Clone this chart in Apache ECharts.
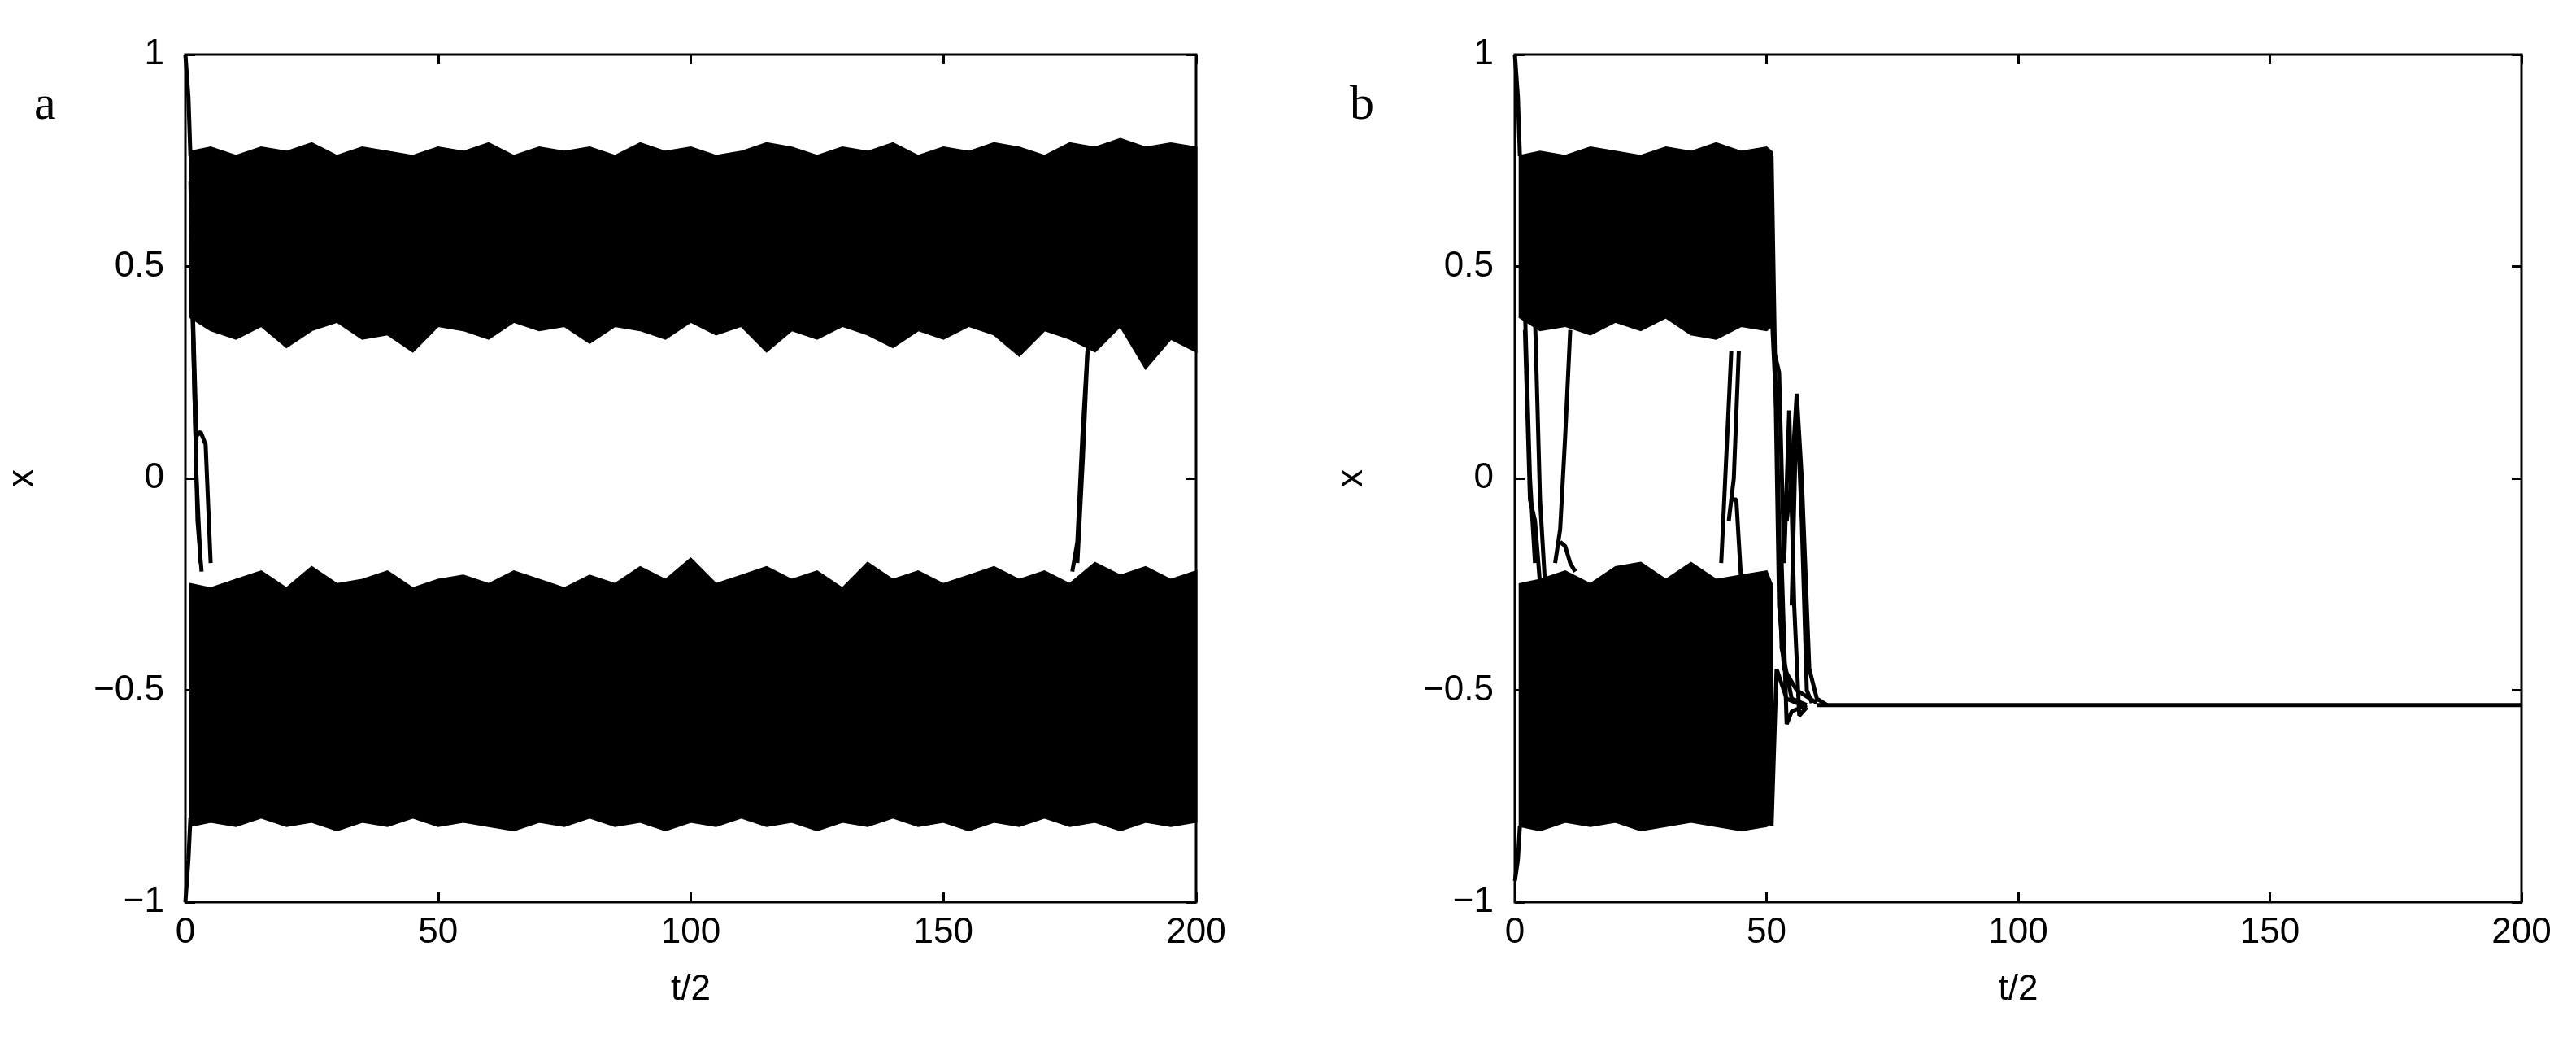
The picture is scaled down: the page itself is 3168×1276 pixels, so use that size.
<!DOCTYPE html>
<html><head><meta charset="utf-8">
<script src="https://cdn.jsdelivr.net/npm/echarts@6/dist/echarts.min.js"></script>
<style>html,body{margin:0;background:#fff}#c{width:3168px;height:1276px}</style>
</head><body><div id="c"></div>
<script>
const xTicks=[0,50,100,150,200];
const yTicks=[-1,-0.5,0,0.5,1];
const T_A=[1,5,10,15,20,25,30,35,40,45,50,55,60,65,70,75,80,85,90,95,100,105,110,115,120,125,130,135,140,145,150,155,160,165,170,175,180,185,190,195,200];
const A_ut=[0.77,0.78,0.76,0.78,0.77,0.79,0.76,0.78,0.77,0.76,0.78,0.77,0.79,0.76,0.78,0.77,0.78,0.76,0.79,0.77,0.78,0.76,0.77,0.79,0.78,0.76,0.78,0.77,0.79,0.76,0.78,0.77,0.79,0.78,0.76,0.79,0.78,0.80,0.78,0.79,0.78];
const A_ub=[0.38,0.35,0.33,0.36,0.31,0.35,0.37,0.33,0.34,0.30,0.36,0.35,0.33,0.37,0.35,0.36,0.32,0.36,0.35,0.33,0.37,0.34,0.36,0.30,0.35,0.33,0.36,0.34,0.31,0.35,0.33,0.36,0.34,0.29,0.35,0.33,0.30,0.36,0.26,0.33,0.30];
const A_lt=[-0.25,-0.26,-0.24,-0.22,-0.26,-0.21,-0.25,-0.24,-0.22,-0.26,-0.24,-0.23,-0.25,-0.22,-0.24,-0.26,-0.23,-0.25,-0.21,-0.24,-0.19,-0.25,-0.23,-0.21,-0.24,-0.22,-0.26,-0.20,-0.24,-0.22,-0.25,-0.23,-0.21,-0.24,-0.22,-0.25,-0.20,-0.23,-0.21,-0.24,-0.22];
const A_lb=[-0.82,-0.81,-0.82,-0.80,-0.82,-0.81,-0.83,-0.81,-0.82,-0.80,-0.82,-0.81,-0.82,-0.83,-0.81,-0.82,-0.80,-0.82,-0.81,-0.83,-0.81,-0.82,-0.80,-0.82,-0.81,-0.83,-0.81,-0.82,-0.80,-0.82,-0.81,-0.83,-0.81,-0.82,-0.80,-0.82,-0.81,-0.83,-0.81,-0.82,-0.81];
const T_B=[1,5,10,15,20,25,30,35,40,45,50,51];
const B_ut=[0.76,0.77,0.76,0.78,0.77,0.76,0.78,0.77,0.79,0.77,0.78,0.77];
const B_ub=[0.38,0.35,0.36,0.34,0.37,0.35,0.38,0.34,0.33,0.36,0.35,0.36];
const B_lt=[-0.25,-0.24,-0.22,-0.25,-0.21,-0.20,-0.24,-0.20,-0.24,-0.23,-0.22,-0.25];
const B_lb=[-0.82,-0.83,-0.81,-0.82,-0.81,-0.83,-0.82,-0.81,-0.82,-0.83,-0.82,-0.81];
const A_lines=[
 [[0,1],[0.6,0.9],[1,0.76]],
 [[0,-1],[0.6,-0.9],[1,-0.8]],
 [[1,0.7],[1.6,0.3],[2.2,0.0],[3,-0.2]],
 [[1.2,0.5],[2.2,0.1],[3,0.11],[4,0.08],[5,-0.2]],
 [[1.4,0.4],[2.4,-0.1],[3.2,-0.22]],
 [[175.5,-0.22],[176.5,-0.15],[177.5,0.1],[178.5,0.3],[179.2,0.4]],
 [[176.5,-0.2],[177.6,0.05],[178.8,0.38]]
];
const B_lines=[
 [[0,1],[0.6,0.9],[1,0.76]],
 [[0,-0.95],[0.6,-0.9],[1,-0.82]],
 [[1.5,0.6],[3,0.0],[4,-0.2]],
 [[2,0.35],[3,-0.05],[4,-0.1],[5,-0.25]],
 [[4,0.38],[5,-0.05],[6,-0.25]],
 [[8,-0.2],[9,-0.12],[10,0.1],[11,0.35]],
 [[9,-0.15],[10,-0.16],[11,-0.2],[12,-0.22]],
 [[41,-0.2],[42,0.05],[43,0.3]],
 [[42.5,-0.1],[43.5,0.0],[44.5,0.3]],
 [[43,-0.05],[44,-0.05],[45,-0.25]],
 [[51,0.76],[51.8,0.2],[52.5,-0.3],[53.5,-0.45],[56,-0.5],[60,-0.53]],
 [[51,0.4],[52,0.15],[53,-0.4],[55,-0.52],[58,-0.535]],
 [[51,-0.82],[52,-0.45],[54,-0.52],[57,-0.535]],
 [[51.5,0.3],[52.5,0.25],[53.5,-0.2],[54.5,0.16],[55.5,-0.3],[56.5,-0.56],[58,-0.54]],
 [[54,-0.1],[55,0.0],[56,0.2],[57,0.0],[58.5,-0.45],[60,-0.52],[62,-0.535]],
 [[53,-0.2],[54,-0.58],[55,-0.55],[58,-0.535]],
 [[55,-0.3],[56,0.19],[57,-0.1],[58,-0.5],[59,-0.53]],
 [[60,-0.535],[200,-0.535]]
];
const F='Liberation Sans';
function band(T,top,bot,gi){
 return {type:'custom',xAxisIndex:gi*2,yAxisIndex:gi*2,data:[[100,0]],silent:true,
  renderItem:(p,api)=>{const pts=[];for(let i=0;i<T.length;i++)pts.push(api.coord([T[i],top[i]]));
   for(let i=T.length-1;i>=0;i--)pts.push(api.coord([T[i],bot[i]]));
   return {type:'polygon',shape:{points:pts},style:{fill:'#000',stroke:'#000',lineWidth:3}};}};
}
function lines(L,gi){return L.map(d=>({type:'line',xAxisIndex:gi*2,yAxisIndex:gi*2,data:d,symbol:'none',silent:true,lineStyle:{color:'#000',width:5}}));}
const fmt=v=>String(v).replace('-','\u2212');
const tick={inside:true,length:12,lineStyle:{color:'#000',width:3}};
const noLine={show:false,onZero:false};
function axes(gi){
 const xa={type:'value',gridIndex:gi,min:0,max:200,interval:50,position:'bottom',
  axisLine:noLine,axisTick:tick,splitLine:{show:false},
  axisLabel:{fontFamily:F,fontSize:44,color:'#000',margin:16},name:'t/2',nameLocation:'middle',nameGap:86,
  nameTextStyle:{fontFamily:F,fontSize:44,color:'#000'}};
 const xb={type:'value',gridIndex:gi,min:0,max:200,interval:50,position:'top',axisLine:noLine,
  axisTick:tick,axisLabel:{show:false},splitLine:{show:false}};
 const ya={type:'value',gridIndex:gi,min:-1,max:1,interval:0.5,position:'left',axisLine:noLine,
  axisTick:tick,splitLine:{show:false},
  axisLabel:{fontFamily:F,fontSize:44,color:'#000',margin:26,formatter:fmt},name:'x',nameLocation:'middle',nameGap:178,
  nameTextStyle:{fontFamily:F,fontSize:44,color:'#000'}};
 const yb={type:'value',gridIndex:gi,min:-1,max:1,interval:0.5,position:'right',axisLine:noLine,
  axisTick:tick,axisLabel:{show:false},splitLine:{show:false}};
 return [[xa,xb],[ya,yb]];
}
const a0=axes(0),a1=axes(1);
const chart=echarts.init(document.getElementById('c'));
chart.setOption({
 animation:false,backgroundColor:'#fff',
 graphic:[{type:'text',left:42,top:100,style:{text:'a',font:'60px "Liberation Serif"',fill:'#000'}},
          {type:'text',left:1660,top:100,style:{text:'b',font:'60px "Liberation Serif"',fill:'#000'}}],
 grid:[{left:228,top:67,width:1243,height:1042,show:true,borderColor:'#000',borderWidth:3,backgroundColor:'transparent'},
       {left:1863,top:67,width:1238,height:1042,show:true,borderColor:'#000',borderWidth:3,backgroundColor:'transparent'}],
 xAxis:[...a0[0],...a1[0]],
 yAxis:[...a0[1],...a1[1]],
 series:[band(T_A,A_ut,A_ub,0),band(T_A,A_lt,A_lb,0),...lines(A_lines,0),
         band(T_B,B_ut,B_ub,1),band(T_B,B_lt,B_lb,1),...lines(B_lines,1)]
});
</script></body></html>
